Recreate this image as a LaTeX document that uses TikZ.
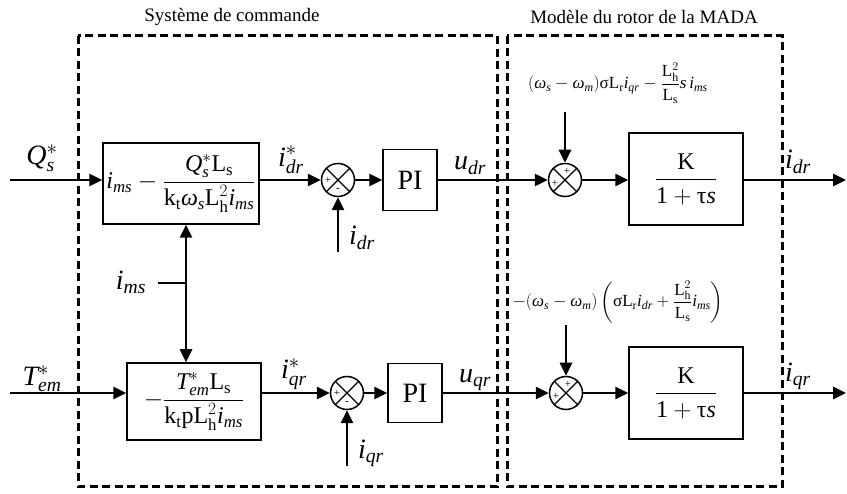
\documentclass[tikz,border=0pt]{standalone}
\usepackage{amsmath}
\usepackage{fontspec}
\setmainfont{Liberation Serif}
\usetikzlibrary{arrows.meta}
\newcommand\It[1]{\textit{#1}}
\newcommand\Rm[1]{\textrm{#1}}
\begin{document}
\begin{tikzpicture}[x=1pt,y=-1pt,
  tip/.tip={Triangle[length=13pt,width=12pt]},
  conn/.style={line width=2.9pt,-tip},
  dconn/.style={line width=2.9pt,tip-tip},
  wire/.style={line width=2.9pt},
  blk/.style={draw,line width=1.5pt,inner sep=0pt},
  dbox/.style={line width=3pt,dash pattern=on 8pt off 4.5pt},
  sumj/.style={circle,draw,line width=1.5pt,minimum size=33pt,inner sep=0pt,
    path picture={\draw[line width=1.3pt]
      (path picture bounding box.north west) -- (path picture bounding box.south east)
      (path picture bounding box.north east) -- (path picture bounding box.south west);}},
  sgn/.style={font=\fontsize{11}{12}\selectfont,inner sep=0pt},
  lab/.style={font=\fontsize{28}{32}\selectfont,inner sep=0pt},
  frm/.style={font=\fontsize{24}{28}\selectfont},
  small/.style={font=\fontsize{17}{20}\selectfont,inner sep=0pt},
  title/.style={font=\fontsize{19}{22}\selectfont,inner sep=0pt}]
\useasboundingbox (0,0) rectangle (847,494);

% titles and dashed frames
\node[title] (t1) at (232,17) {Système de commande};
\node[title] (t2) at (644,17) {Modèle du rotor de la MADA};
\draw[dbox] (78,36) rectangle (497,487);
\draw[dbox] (507,36) rectangle (782,487);

% blocks
\node[blk,minimum width=156pt,minimum height=81pt,frm] (b1) at (181,183.5)
  {$\It{i}_{\It{ms}}-\dfrac{\It{Q}_{\It{s}}^{*}\Rm{L}_{\Rm{s}}}{\Rm{k}_{\Rm{t}}\It{ω}_{\It{s}}\Rm{L}_{\Rm{h}}^{2}\It{i}_{\It{ms}}}$};
\node[blk,minimum width=134pt,minimum height=77pt,frm] (b2) at (194,401.5)
  {$-\dfrac{\It{T}_{\It{em}}^{*}\Rm{L}_{\Rm{s}}}{\Rm{k}_{\Rm{t}}\Rm{p}\Rm{L}_{\Rm{h}}^{2}\It{i}_{\It{ms}}}$};
\node[sumj] (s1) at (338,180) {};
\node[sumj] (s3) at (347,393) {};
\node[blk,minimum width=54pt,minimum height=61pt,lab] (p1) at (410,180) {PI};
\node[blk,minimum width=54pt,minimum height=59pt,lab] (p2) at (415,393) {PI};
\node[sumj] (s2) at (565,180) {};
\node[sumj] (s4) at (566,393) {};
\node[blk,minimum width=114pt,minimum height=92pt,frm] (k1) at (686,179)
  {$\dfrac{\Rm{K}}{\Rm{1}+\textup{τ}\It{s}}$};
\node[blk,minimum width=114pt,minimum height=92pt,frm] (k2) at (686,393)
  {$\dfrac{\Rm{K}}{\Rm{1}+\textup{τ}\It{s}}$};

% signs in junctions (yshift is in canvas direction: negative = down)
\node[sgn] (s1p) at ([xshift=-10pt]s1.center) {+};
\node[sgn] (s1m) at ([yshift=-10pt]s1.center) {-};
\node[sgn] (s3p) at ([xshift=-10pt]s3.center) {+};
\node[sgn] (s3m) at ([yshift=-10pt]s3.center) {-};
\node[sgn] (s2p) at ([xshift=-10pt,yshift=-3pt]s2.center) {+};
\node[sgn] (s2t) at ([xshift=2pt,yshift=9pt]s2.center) {+};
\node[sgn] (s4p) at ([xshift=-10pt,yshift=-3pt]s4.center) {+};
\node[sgn] (s4t) at ([xshift=2pt,yshift=9pt]s4.center) {+};

% labels
\node[lab] (lq) at (42,158) {$\It{Q}_{\It{s}}^{*}$};
\node[lab] (lt) at (42,379) {$\It{T}_{\It{em}}^{*}$};
\node[lab] (lidrs) at (291,160) {$\It{i}_{\It{dr}}^{*}$};
\node[lab] (liqrs) at (294,374) {$\It{i}_{\It{qr}}^{*}$};
\node[lab] (ludr) at (470,166) {$\It{u}_{\It{dr}}$};
\node[lab] (luqr) at (475,380) {$\It{u}_{\It{qr}}$};
\node[lab] (lidr) at (362,238) {$\It{i}_{\It{dr}}$};
\node[lab] (liqr) at (371,453) {$\It{i}_{\It{qr}}$};
\node[lab] (loidr) at (798,162) {$\It{i}_{\It{dr}}$};
\node[lab] (loiqr) at (798,376) {$\It{i}_{\It{qr}}$};
\node[lab] (lims) at (131,282) {$\It{i}_{\It{ms}}$};

\node[small] (f1) at (618,83)
  {$(\It{ω}_{\It{s}}-\It{ω}_{\It{m}})\textup{σ}\Rm{L}_{\Rm{r}}\It{i}_{\It{qr}}-\dfrac{\Rm{L}_{\Rm{h}}^{2}}{\Rm{L}_{\Rm{s}}}\It{s}\,\It{i}_{\It{ms}}$};
\node[small] (f2) at (618,302)
  {$-(\It{ω}_{\It{s}}-\It{ω}_{\It{m}})\left(\textup{σ}\Rm{L}_{\Rm{r}}\It{i}_{\It{dr}}+\dfrac{\Rm{L}_{\Rm{h}}^{2}}{\Rm{L}_{\Rm{s}}}\It{i}_{\It{ms}}\right)$};

% coordinates
\coordinate (qin) at (10,180);
\coordinate (tin) at (10,393);
\coordinate (o1) at (846,180);
\coordinate (o2) at (846,393);
\coordinate (idrin) at (338,252);
\coordinate (iqrin) at (347,466);
\coordinate (f1o) at (565,112);
\coordinate (f2o) at (566,325);
\coordinate (imsj) at (186,283);
\coordinate (imsl) at (158,283);

% connectors
\draw[conn] (qin) -- (qin -| b1.west);
\draw[conn] (tin) -- (tin -| b2.west);
\draw[conn] (s1 -| b1.east) -- (s1.west);
\draw[conn] (s3 -| b2.east) -- (s3.west);
\draw[conn] (s1.east) -- (p1.west);
\draw[conn] (s3.east) -- (p2.west);
\draw[conn] (p1.east) -- (s2.west);
\draw[conn] (p2.east) -- (s4.west);
\draw[conn] (s2.east) -- (s2 -| k1.west);
\draw[conn] (s4.east) -- (k2.west);
\draw[conn] (k1.east |- o1) -- (o1);
\draw[conn] (k2.east) -- (o2);
\draw[conn] (idrin) -- (s1.south);
\draw[conn] (iqrin) -- (s3.south);
\draw[conn] (f1o) -- (s2.north);
\draw[conn] (f2o) -- (s4.north);
\draw[dconn] (imsj |- b1.south) -- (imsj |- b2.north);
\draw[wire] (imsl) -- (imsj);
\end{tikzpicture}
\end{document}
